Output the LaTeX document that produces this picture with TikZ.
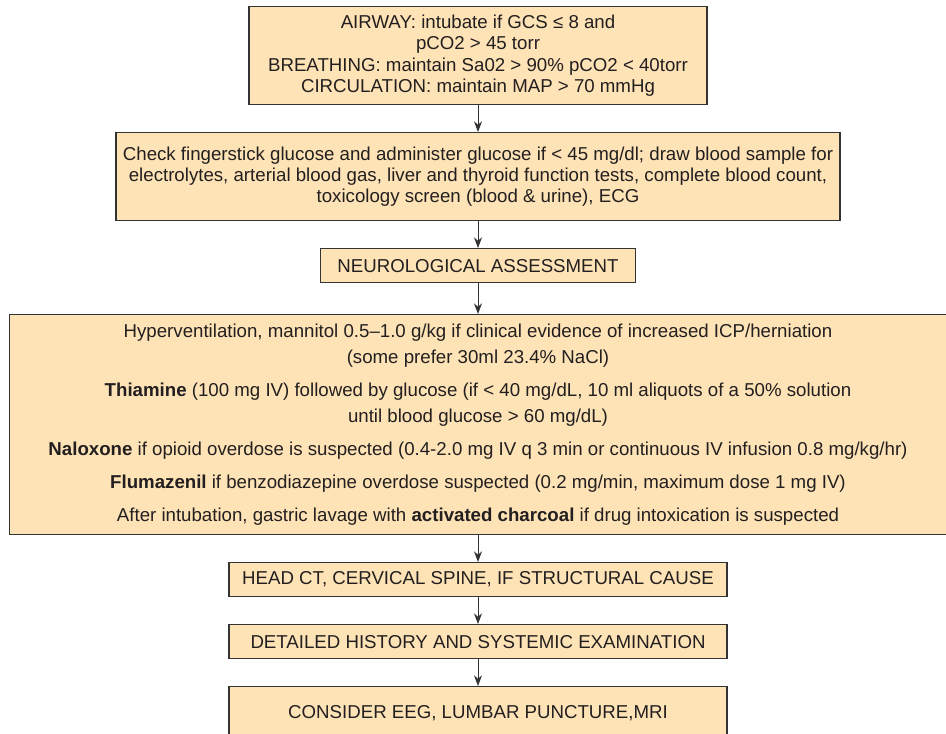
\documentclass[tikz,border=0pt]{standalone}
\usepackage{fontspec}
\setmainfont{Liberation Sans}
\usetikzlibrary{arrows.meta, positioning}
\definecolor{cFill}{RGB}{254,227,182}
\definecolor{cLine}{RGB}{51,51,51}
\definecolor{cText}{RGB}{35,31,32}
\tikzset{
	process/.style  ={rectangle, draw=cLine, line width=0.9pt, fill=cFill, text=cText, align=center, inner sep=2pt, font=\fontsize{14}{16}\selectfont},
	treatbox/.style ={process, font=\fontsize{14}{19.5}\selectfont},
	flowarrow/.style={-{Stealth[length=8pt, width=6pt]}, line width=0.7pt, draw=cLine},
}

\begin{document}
\begin{tikzpicture}[node distance=20.1pt]
	\clip (0,0) rectangle (709.5pt,549.75pt);
	% primary survey
	\node[process, minimum width=343.5pt, minimum height=73.5pt, anchor=north] (abc) at (358.5pt,545.25pt)
		{AIRWAY: intubate if GCS ≤ 8 and\\ pCO2 > 45 torr\\ BREATHING: maintain Sa02 > 90\% pCO2 < 40torr\\ CIRCULATION: maintain MAP > 70 mmHg};
	\node[process, font=\fontsize{14}{15.75}\selectfont, minimum width=543pt, minimum height=66pt, below=of abc] (labs)
		{Check fingerstick glucose and administer glucose if < 45 mg/dl; draw blood sample for\\ electrolytes, arterial blood gas, liver and thyroid function tests, complete blood count,\\ toxicology screen (blood \& urine), ECG};
	\node[process, minimum width=236.25pt, minimum height=25.5pt, below=of labs] (neuro) {NEUROLOGICAL ASSESSMENT};
	% treatment block
	\node[treatbox, minimum width=702.75pt, minimum height=165pt, below=23.1pt of neuro] (treat)
		{Hyperventilation, mannitol 0.5–1.0 g/kg if clinical evidence of increased ICP/herniation\\
		(some prefer 30ml 23.4\% NaCl)\\[5.25pt]
		\textbf{Thiamine} (100 mg IV) followed by glucose (if < 40 mg/dL, 10 ml aliquots of a 50\% solution\\
		until blood glucose > 60 mg/dL)\\[5.25pt]
		\textbf{Naloxone} if opioid overdose is suspected (0.4-2.0 mg IV q 3 min or continuous IV infusion 0.8 mg/kg/hr)\\[5.25pt]
		\textbf{Flumazenil} if benzodiazepine overdose suspected (0.2 mg/min, maximum dose 1 mg IV)\\[5.25pt]
		After intubation, gastric lavage with \textbf{activated charcoal} if drug intoxication is suspected};
	% further work-up
	\node[process, minimum width=373.5pt, minimum height=25.5pt, below=of treat] (ct) {HEAD CT, CERVICAL SPINE, IF STRUCTURAL CAUSE};
	\node[process, minimum width=373.5pt, minimum height=25.5pt, below=of ct] (hist) {DETAILED HISTORY AND SYSTEMIC EXAMINATION};
	\node[process, minimum width=373.5pt, minimum height=40.5pt, below=of hist] (eeg) {CONSIDER EEG, LUMBAR PUNCTURE,MRI};
	\foreach \a/\b in {abc/labs, labs/neuro, neuro/treat, treat/ct, ct/hist, hist/eeg}
		\draw[flowarrow] (\a) -- (\b);
\end{tikzpicture}
\end{document}
